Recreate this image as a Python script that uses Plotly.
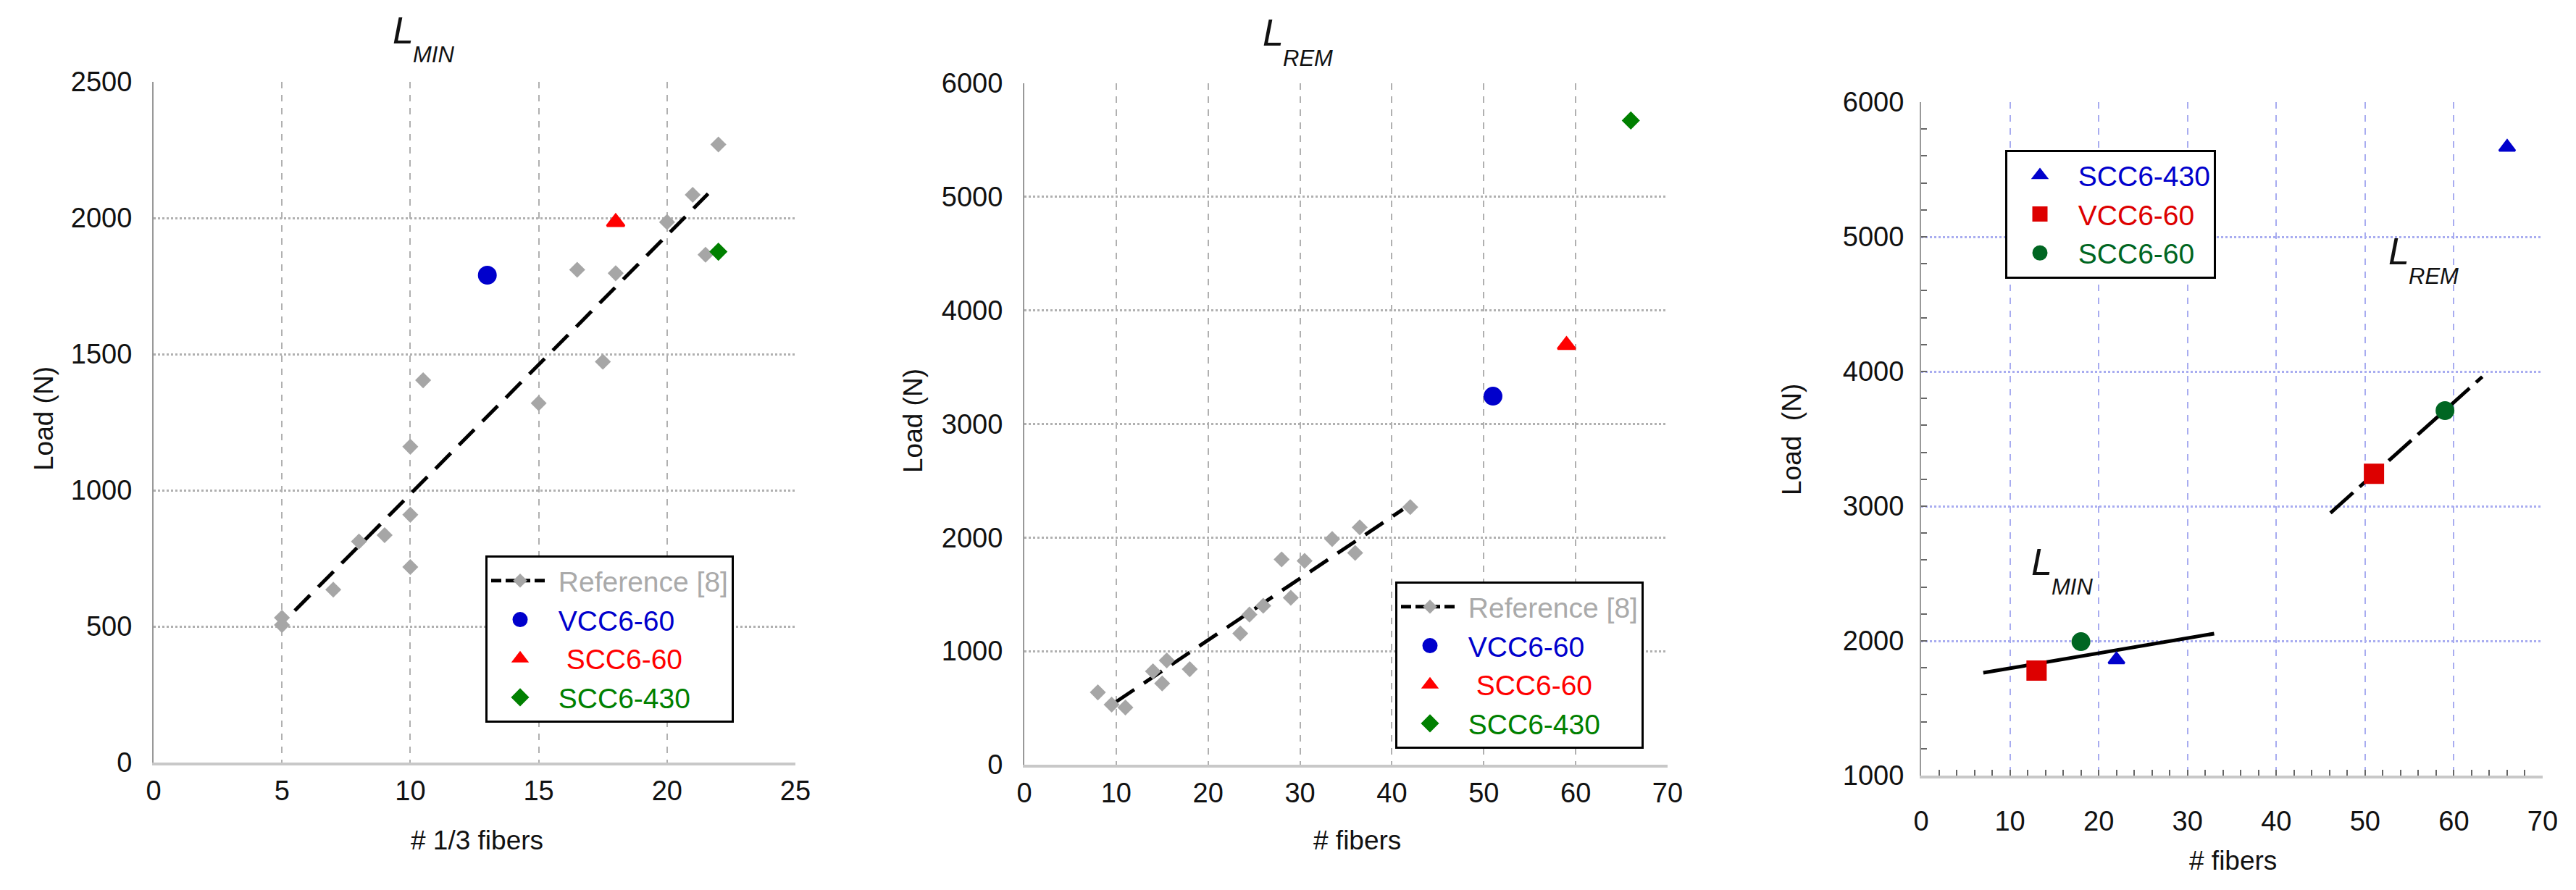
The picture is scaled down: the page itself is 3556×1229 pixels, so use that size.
import plotly.graph_objects as go

W, H = 3556, 1229
BODY = 8  # default page margin around the plot div
FONT = 'Liberation Sans, Arial, sans-serif'

# L_MIN panel (x = number of 1/3 fibers)
ref_min_x = [5, 5, 7, 8, 9, 10, 10, 10, 10.5, 15, 16.5, 17.5, 18, 20, 21, 21.5, 22]
ref_min_y = [505, 532, 635, 812, 835, 718, 910, 1160, 1404, 1320, 1810, 1472, 1797, 1985, 2085, 1865, 2270]
fit_min_x = [5.5, 21.6]
fit_min_y = [558, 2089]

# L_REM panel (x = number of fibers)
ref_rem_x = [8, 9.5, 11, 14, 15, 15.5, 18, 23.5, 24.5, 26, 28, 29, 30.5, 33.5, 36, 36.5, 42]
ref_rem_y = [637, 529, 504, 823, 716, 918, 841, 1156, 1322, 1400, 1808, 1470, 1795, 1987, 1865, 2090, 2268]
fit_rem_x = [10, 41.2]
fit_rem_y = [555, 2248]

specimens = ['VCC6-60', '\u00a0SCC6-60', 'SCC6-430']
spec_colors = ['#0000cc', '#ff0000', '#008000']
spec_symbols = ['circle', 'triangle-up', 'diamond']
spec_sizes = [21, 21, 15]
spec_lines = [5, 3, 4]
min_x = [13, 18, 22]
min_y = [1790, 1985, 1876]
rem_x = [51, 59, 66]
rem_y = [3245, 3695, 5672]

# summary panel
sum_names = ['SCC6-430', 'VCC6-60', 'SCC6-60']
sum_colors = ['#0000cc', '#dd0000', '#006622']
sum_symbols = ['triangle-up', 'square', 'circle']
sum_sizes = [19, 23, 21]
sum_lines = [3, 5, 5]
sum_min_x = [22, 13, 18]
sum_min_y = [1860, 1780, 1994]
sum_rem_x = [66, 51, 59]
sum_rem_y = [5665, 3240, 3710]
line_min_x = [7, 33]
line_min_y = [1763, 2054]
line_rem_x = [46.1, 63.2]
line_rem_y = [2950, 3961]

FW, FH = W - 2 * BODY, H - 2 * BODY


def px(x):
    return (x - BODY) / FW


def py(y):
    return 1 - (y - BODY) / FH


fig = go.Figure()
PRE = '\u2009'


def ref_panel(xa, ya, leg, rx, ry, fx, fy, sx, sy):
    fig.add_trace(go.Scatter(
        x=fx, y=fy, mode='lines', xaxis=xa, yaxis=ya, showlegend=False,
        line=dict(color='black', width=5, dash='30px,16px')
    ))
    fig.add_trace(go.Scatter(
        x=rx, y=ry, mode='markers', xaxis=xa, yaxis=ya, showlegend=False,
        marker=dict(symbol='diamond', size=17, color='#a6a6a6')
    ))
    # legend-only entry for the reference data (line + marker)
    fig.add_trace(go.Scatter(
        x=[None], y=[None], mode='lines+markers', xaxis=xa, yaxis=ya, legend=leg,
        name=PRE + '<span style="color:#aaaaaa">Reference [8]</span>',
        line=dict(color='black', width=5, dash='14px,6px'),
        marker=dict(symbol='diamond', size=15, color='#a6a6a6')
    ))
    for i, name in enumerate(specimens):
        fig.add_trace(go.Scatter(
            x=[sx[i]], y=[sy[i]], mode='markers', xaxis=xa, yaxis=ya, legend=leg,
            name=PRE + '<span style="color:%s">%s</span>' % (spec_colors[i], name),
            marker=dict(symbol=spec_symbols[i], size=spec_sizes[i], color=spec_colors[i],
                        line=dict(width=spec_lines[i], color=spec_colors[i]))
        ))


ref_panel('x', 'y', 'legend', ref_min_x, ref_min_y, fit_min_x, fit_min_y, min_x, min_y)
ref_panel('x2', 'y2', 'legend2', ref_rem_x, ref_rem_y, fit_rem_x, fit_rem_y, rem_x, rem_y)

fig.add_trace(go.Scatter(
    x=line_min_x, y=line_min_y, mode='lines', xaxis='x3', yaxis='y3', showlegend=False,
    line=dict(color='black', width=5)
))
fig.add_trace(go.Scatter(
    x=line_rem_x, y=line_rem_y, mode='lines', xaxis='x3', yaxis='y3', showlegend=False,
    line=dict(color='black', width=5, dash='42px,12px')
))
for i, name in enumerate(sum_names):
    fig.add_trace(go.Scatter(
        x=[sum_min_x[i], sum_rem_x[i]], y=[sum_min_y[i], sum_rem_y[i]],
        mode='markers', xaxis='x3', yaxis='y3', legend='legend3',
        name=PRE + '<span style="color:%s">%s</span>' % (sum_colors[i], name),
        marker=dict(symbol=sum_symbols[i], size=sum_sizes[i], color=sum_colors[i],
                    line=dict(width=sum_lines[i], color=sum_colors[i]))
    ))

TICKFONT = dict(size=38, color='#111111', family=FONT)


def x_axis(dom, rng, dtick, grid, anchor, summary=False):
    ax = dict(domain=[px(dom[0]), px(dom[1])], range=rng, dtick=dtick, tick0=0,
              anchor=anchor, automargin=False,
              showgrid=True, gridcolor=grid, griddash='dash', gridwidth=1.5,
              zeroline=False, showline=True, linecolor='#c8c8c8', linewidth=4,
              ticks='', tickfont=TICKFONT, ticklabelstandoff=2)
    if summary:
        ax.update(ticks='inside', ticklen=8, tickwidth=2, tickcolor='#666666',
                  ticklabelstandoff=26,
                  minor=dict(dtick=2, ticks='inside', ticklen=8, tickwidth=2,
                             tickcolor='#666666', showgrid=False))
    return ax


def y_axis(dom, rng, dtick, grid, anchor, summary=False):
    ax = dict(domain=[py(dom[1]), py(dom[0])], range=rng, dtick=dtick,
              anchor=anchor, automargin=False,
              showgrid=True, gridcolor=grid, griddash='dot', gridwidth=2.5,
              zeroline=False, showline=True, linecolor='#999999', linewidth=2,
              ticks='', tickfont=TICKFONT, ticklabelstandoff=20)
    if summary:
        ax.update(ticks='inside', ticklen=8, tickwidth=2, tickcolor='#666666',
                  ticklabelstandoff=14,
                  minor=dict(dtick=200, ticks='inside', ticklen=8, tickwidth=2,
                             tickcolor='#666666', showgrid=False))
    return ax


GRID = '#b0b0b0'
GRID_BLUE = '#a8acf0'

legend_style = dict(bgcolor='white', bordercolor='black', borderwidth=3,
                    font=dict(size=39, family=FONT), itemwidth=80,
                    xanchor='left', yanchor='top', tracegroupgap=0)

fig.update_layout(
    width=FW, height=FH,
    margin=dict(l=0, r=0, t=0, b=0, pad=0, autoexpand=False),
    paper_bgcolor='white', plot_bgcolor='white',
    font=dict(family=FONT, color='#111111'),
    xaxis=x_axis((212, 1098), [0, 25], 5, GRID, 'y'),
    yaxis=y_axis((113, 1053), [0, 2500], 500, GRID, 'x'),
    xaxis2=x_axis((1414, 2302), [0, 70], 10, GRID, 'y2'),
    yaxis2=y_axis((115, 1056), [0, 6000], 1000, GRID, 'x2'),
    xaxis3=x_axis((2652, 3510), [0, 70], 10, GRID_BLUE, 'y3', summary=True),
    yaxis3=y_axis((141, 1071), [1000, 6000], 1000, GRID_BLUE, 'x3', summary=True),
    legend=dict(legend_style, x=px(670), y=py(767)),
    legend2=dict(legend_style, x=px(1926), y=py(803)),
    legend3=dict(legend_style, x=px(2768), y=py(207)),
)

annotations = []


def label(text, x, y, size, angle=0, italic=False, xanchor='center'):
    if italic:
        text = '<i>%s</i>' % text
    annotations.append(dict(
        text=text, x=px(x), y=py(y), xref='paper', yref='paper', showarrow=False,
        xanchor=xanchor, yanchor='middle', textangle=angle,
        font=dict(size=size, family=FONT, color='#111111')
    ))


def sub_label(main, sub, x, y_main, y_sub):
    label(main, x, y_main, 52, italic=True, xanchor='left')
    label(sub, x + 28, y_sub, 31, italic=True, xanchor='left')


# panel titles and in-plot labels
sub_label('L', 'MIN', 540, 42, 76)
sub_label('L', 'REM', 1741, 45, 80)
sub_label('L', 'REM', 3295, 347, 381)
sub_label('L', 'MIN', 2802, 776, 810)

# axis titles
label('# 1/3 fibers', 658, 1160, 37)
label('# fibers', 1873, 1160, 37)
label('# fibers', 3082, 1188, 37)
label('Load (N)', 60, 578, 37, angle=-90)
label('Load (N)', 1261, 581, 37, angle=-90)
label('Load\u00a0\u00a0(N)', 2473, 607, 37, angle=-90)

fig.update_layout(annotations=annotations)

fig.write_html('out.html')
